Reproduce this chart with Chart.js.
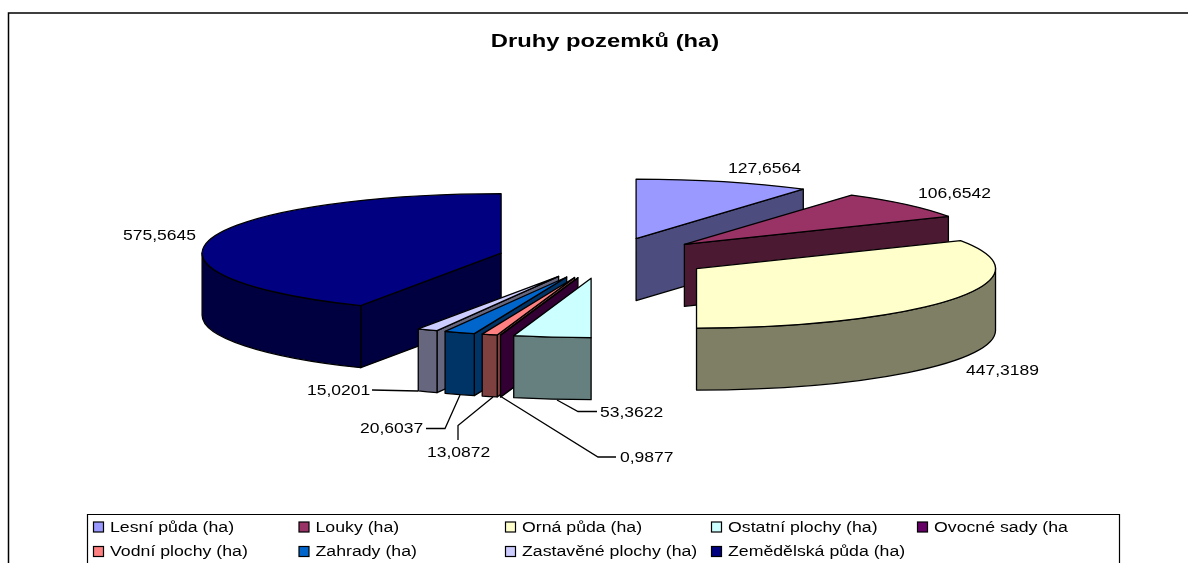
<!DOCTYPE html>
<html lang="cs">
<head>
<meta charset="utf-8">
<title>Druhy pozemků (ha)</title>
<style>html,body{margin:0;padding:0;background:#fff;overflow:hidden}canvas{display:block}</style>
<script src="https://cdn.jsdelivr.net/npm/chart.js@4/dist/chart.umd.js"></script>
</head>
<body>
<canvas id="c" width="1188" height="563"></canvas>
<script>
const chartTitle = 'Druhy pozemků (ha)';
const categories = ['Lesní půda (ha)','Louky (ha)','Orná půda (ha)','Ostatní plochy (ha)','Ovocné sady (ha','Vodní plochy (ha)','Zahrady (ha)','Zastavěné plochy (ha)','Zemědělská půda (ha)'];
const seriesValues = [127.6564,106.6542,447.3189,53.3622,0.9877,13.0872,20.6037,15.0201,575.5645];
const sliceColors = ['#9999FF','#993366','#FFFFCC','#CCFFFF','#660066','#FF8080','#0066CC','#CCCCFF','#000080'];

// presentation constants
const TILT = 0.199, EXPLODE_TILT = 0.19, DEPTH = 62, RADIUS = 299, EXPLODE = 107;
const FONT = '"Liberation Sans", Arial, sans-serif';
const LABEL_STRETCH = 1.25, LEGEND_STRETCH = 1.265, TEXT_NUDGE = 1;
const valueLabelAt = [
  {x:728,y:168},
  {x:918,y:193},
  {x:966,y:370},
  {x:600,y:412,line:[[597,411.5],[578,411.5],[557,400]]},
  {x:620,y:457,line:[[616,457],[598,457],[500,396]]},
  {x:427,y:452,line:[[458,440],[458,425.5],[493,397]]},
  {x:360,y:428,line:[[426,428.5],[445,428.5],[460,395]]},
  {x:307,y:390,line:[[372,390],[418,391]]},
  {x:123,y:235}
];
const legendFrame = {left:87,top:514,right:1119};
const legendCols = [93,298.5,505,711,917];
const legendRows = [527,551.5];

function halfShade(hex){
  const n = parseInt(hex.slice(1),16);
  return 'rgb('+((n>>16&255)>>1)+','+((n>>8&255)>>1)+','+((n&255)>>1)+')';
}
function stretchedText(ctx,text,x,y,sx){
  ctx.save();ctx.translate(x,y+TEXT_NUDGE);ctx.scale(sx,1);ctx.fillText(text,0,0);ctx.restore();
}
// the reference's 3-D pie renders slice edges on whole degrees
const wholeDegree = a => Math.round(a*180/Math.PI)*Math.PI/180;

class Arc3D extends Chart.ArcElement {
  static id = 'arc3d';
  draw(ctx){
    const o = this.options, R = this.outerRadius;
    const mid = (this.startAngle+this.endAngle)/2, ry = R*TILT;
    const a1 = wholeDegree(this.startAngle), a2 = wholeDegree(this.endAngle);
    const cx = this.x + Math.cos(mid)*o.offset, cy = this.y + Math.sin(mid)*o.offset*EXPLODE_TILT;
    const wall = halfShade(o.backgroundColor);
    ctx.save();
    ctx.lineWidth = o.borderWidth; ctx.strokeStyle = o.borderColor; ctx.lineJoin = 'round';
    const paint = c => {ctx.fillStyle = c; ctx.fill(); ctx.stroke();};
    const radial = a => {
      const px = cx+R*Math.cos(a), py = cy+ry*Math.sin(a);
      ctx.beginPath();ctx.moveTo(cx,cy);ctx.lineTo(px,py);ctx.lineTo(px,py+DEPTH);ctx.lineTo(cx,cy+DEPTH);ctx.closePath();
      paint(wall);
    };
    if (Math.cos(a1) < -1e-6) radial(a1);
    if (Math.cos(a2) > 1e-6) radial(a2);
    const f1 = Math.max(a1,0), f2 = Math.min(a2,Math.PI);
    if (f2 > f1){
      ctx.beginPath();
      ctx.ellipse(cx,cy,R,ry,0,f1,f2);
      ctx.ellipse(cx,cy+DEPTH,R,ry,0,f2,f1,true);
      ctx.closePath();
      paint(wall);
    }
    ctx.beginPath();ctx.moveTo(cx,cy);ctx.ellipse(cx,cy,R,ry,0,a1,a2);ctx.closePath();
    paint(o.backgroundColor);
    ctx.restore();
  }
}
class Pie3D extends Chart.PieController {
  static id = 'pie3d';
  static defaults = {dataElementType:'arc3d'};
  draw(){
    const ctx = this.chart.ctx;
    const depthKey = e => Math.sin((e.startAngle+e.endAngle)/2);
    [...this._cachedMeta.data].sort((p,q)=>depthKey(p)-depthKey(q)).forEach(e=>e.draw(ctx));
  }
}
Chart.register(Arc3D,Pie3D);

const decorations = {
  id:'decorations',
  afterLayout(chart){
    const t = chart.titleBlock;
    if (t && !t._stretched){
      t._stretched = true;
      const orig = t.draw;
      t.draw = function(){
        const c = this.ctx, mx = (this.left+this.right)/2;
        c.save();c.translate(mx,0);c.scale(1.32,1);c.translate(-mx,0);
        orig.call(this);
        c.restore();
      };
    }
  },
  beforeDraw(chart){
    const c = chart.ctx;
    c.save();c.fillStyle='#fff';c.fillRect(0,0,chart.width,chart.height);
    c.strokeStyle='#000';c.lineWidth=1.5;
    c.beginPath();c.moveTo(8.5,chart.height+2);c.lineTo(8.5,13);c.lineTo(chart.width+2,13);c.stroke();
    c.restore();
  },
  afterDraw(chart){
    const c = chart.ctx, ds = chart.data.datasets[0];
    c.save();
    c.font = '14px '+FONT;c.textBaseline='middle';c.textAlign='left';c.fillStyle='#000';
    // value labels + leader lines
    c.strokeStyle='#000';c.lineWidth=1.3;
    ds.data.forEach((v,i)=>{
      const p = valueLabelAt[i];
      if (p.line){
        c.beginPath();p.line.forEach((q,k)=>k?c.lineTo(q[0],q[1]):c.moveTo(q[0],q[1]));c.stroke();
      }
      stretchedText(c,v.toFixed(4).replace('.',','),p.x,p.y,LABEL_STRETCH);
    });
    // legend
    c.lineWidth=1.2;
    c.beginPath();c.moveTo(legendFrame.left+.5,chart.height+2);c.lineTo(legendFrame.left+.5,legendFrame.top+.5);c.lineTo(legendFrame.right+.5,legendFrame.top+.5);c.lineTo(legendFrame.right+.5,chart.height+2);c.stroke();
    chart.data.labels.forEach((label,i)=>{
      const x = legendCols[i%5], y = legendRows[Math.floor(i/5)];
      c.fillStyle = ds.backgroundColor[i];c.fillRect(x+.5,y-5,10,10);
      c.strokeStyle='#000';c.lineWidth=1.2;c.strokeRect(x+.5,y-5,10,10);
      c.fillStyle='#000';
      stretchedText(c,label,x+17,y,LEGEND_STRETCH);
    });
    c.restore();
  }
};

new Chart(document.getElementById('c'),{
  type:'pie3d',
  data:{labels:categories,datasets:[{
    data:seriesValues,
    backgroundColor:sliceColors,
    borderColor:'#000',
    borderWidth:1.3,
    offset:EXPLODE,
    radius:RADIUS,
    clip:false
  }]},
  options:{
    responsive:false,
    animation:false,
    layout:{padding:{left:22,right:0,top:31,bottom:99.6}},
    plugins:{
      legend:{display:false},
      tooltip:{enabled:false},
      title:{display:true,text:chartTitle,color:'#000',padding:0,font:{family:FONT,size:18,weight:'bold'}}
    }
  },
  plugins:[decorations]
});
</script>
</body>
</html>
